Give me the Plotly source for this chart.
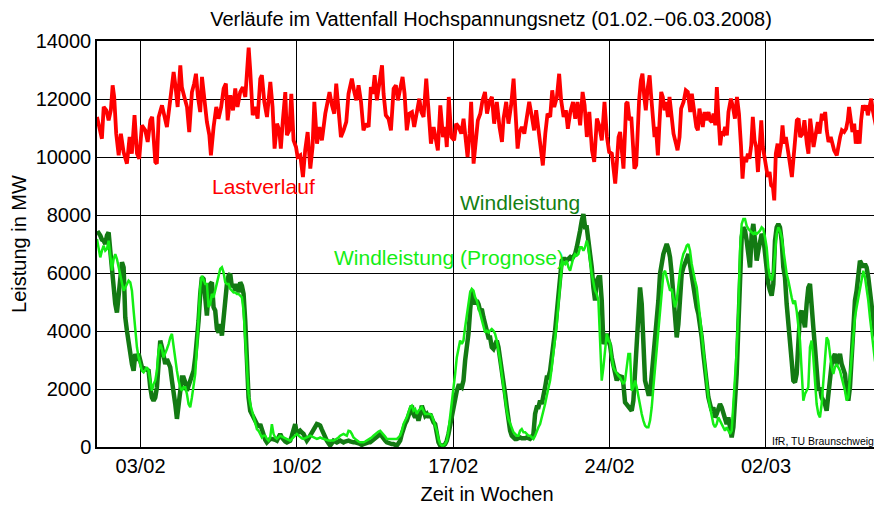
import pandas as pd
import plotly.graph_objects as go

START = pd.Timestamp("2008-02-01")

# ---- Lastverlauf (irregular samples: day offset from 01.02.2008, MW) ----
LOAD_DAYS = [
    0.05, 0.17, 0.27, 0.35, 0.47, 0.57, 0.67, 0.75, 0.82, 0.91, 1.02, 1.12, 1.24, 1.39, 1.51, 1.61, 1.73, 1.84, 1.94,
    2.06, 2.21, 2.32, 2.44, 2.52, 2.66, 2.73, 2.81, 2.96, 3.06, 3.18, 3.29, 3.38, 3.48, 3.55, 3.66, 3.78, 3.85, 3.96,
    4.08, 4.18, 4.30, 4.40, 4.48, 4.57, 4.67, 4.75, 4.85, 4.97, 5.08, 5.15, 5.27, 5.39, 5.49, 5.61, 5.72, 5.82, 5.90,
    6.02, 6.14, 6.24, 6.34, 6.46, 6.58, 6.69, 6.76, 6.84, 6.91, 7.02, 7.14, 7.24, 7.36, 7.43, 7.54, 7.66, 7.81, 7.91,
    8.00, 8.11, 8.21, 8.28, 8.37, 8.48, 8.55, 8.66, 8.75, 8.85, 8.96, 9.03, 9.15, 9.27, 9.37, 9.48, 9.60, 9.70, 9.78,
    9.90, 10.01, 10.12, 10.27, 10.37, 10.46, 10.57, 10.67, 10.76, 10.87, 10.97, 11.09, 11.21, 11.31, 11.42,
    11.46, 11.57, 11.66, 11.76, 11.87, 11.98, 12.10, 12.21, 12.31, 12.40, 12.48, 12.58, 12.69, 12.81, 12.88, 12.98,
    13.10, 13.21, 13.33, 13.43, 13.52, 13.63, 13.73, 13.82, 13.92, 14.03, 14.15, 14.25, 14.37, 14.48, 14.57, 14.67,
    14.79, 14.89, 15.00, 15.12, 15.22, 15.31, 15.42, 15.54, 15.64, 15.71, 15.80, 15.91, 16.04, 16.13, 16.24, 16.36,
    16.46, 16.54, 16.64, 16.73, 16.80, 16.91, 17.00, 17.10, 17.21, 17.31, 17.42, 17.51, 17.62, 17.73, 17.83, 17.95,
    18.07, 18.18, 18.25, 18.37, 18.47, 18.59, 18.70, 18.77, 18.88, 18.97, 19.07, 19.18, 19.30, 19.40, 19.52, 19.62,
    19.71, 19.82, 19.92, 20.01, 20.12, 20.22, 20.34, 20.43, 20.52, 20.64, 20.74, 20.83, 20.94, 21.04, 21.13, 21.24,
    21.36, 21.46, 21.56, 21.68, 21.79, 21.88, 21.98, 22.09, 22.21, 22.31, 22.43, 22.53, 22.65, 22.77, 22.88, 22.98,
    23.10, 23.17, 23.25, 23.32, 23.40, 23.47, 23.55, 23.62, 23.70, 23.74, 23.80, 23.89, 23.97, 24.04, 24.11, 24.19,
    24.25, 24.32, 24.40, 24.47, 24.55, 24.62, 24.70, 24.79, 24.85, 24.94, 25.01, 25.07, 25.16, 25.23, 25.31, 25.38,
    25.46, 25.53, 25.61, 25.68, 25.76, 25.86, 25.97, 26.04, 26.13, 26.20, 26.31, 26.41, 26.50, 26.61, 26.68, 26.79,
    26.88, 26.95, 27.02, 27.10, 27.17, 27.25, 27.32, 27.43, 27.50, 27.58, 27.65, 27.73, 27.80, 27.87, 27.95, 28.02,
    28.10, 28.17, 28.25, 28.32, 28.43, 28.52, 28.61, 28.70, 28.79, 28.88, 28.95, 29.02, 29.11, 29.19, 29.26, 29.34,
    29.41, 29.49, 29.56, 29.64, 29.71, 29.79, 29.86, 29.93, 30.01, 30.08, 30.16, 30.23, 30.31, 30.37, 30.44, 30.52,
    30.59, 30.67, 30.74, 30.81, 30.89, 30.96, 31.05, 31.16, 31.23, 31.31, 31.38, 31.46, 31.53, 31.64, 31.72, 31.83,
    31.90, 31.98, 32.05, 32.13, 32.23, 32.32, 32.40, 32.50, 32.58, 32.65, 32.72, 32.80, 32.90, 32.98, 33.05, 33.17,
    33.25, 33.32, 33.40, 33.50, 33.59, 33.66, 33.72, 33.80, 33.87, 33.95, 34.02, 34.10, 34.19, 34.26, 34.34, 34.41,
    34.49, 34.56, 34.63, 34.71, 34.78, 34.86, 34.93, 34.96,
]
LOAD_MW = [
    11380, 11035, 10630, 11725, 11610, 11265, 11610, 12470, 12070, 10805, 10060, 10805, 10170, 9770, 10690, 10115, 11440, 10115, 9940,
    11090, 10920, 10520, 11265, 11380, 9830, 9770, 11380, 11780, 11495, 11035, 11725, 12240, 12930, 12530, 11725, 13160, 12410, 12070,
    11725, 10860, 12240, 12530, 12870, 12070, 11550, 12760, 12070, 11210, 10750, 10060, 11035, 11725, 11320, 11725, 12360, 12530, 11265,
    12130, 11610, 12360, 11725, 12240, 12410, 12070, 12870, 13770, 12990, 11440, 11725, 11320, 12700, 12820, 11900, 11380, 12590, 11725,
    10290, 11150, 10920, 10290, 11265, 12240, 10750, 10920, 12180, 10575, 10345, 10000, 10060, 9310, 10230, 10860, 9600, 10345, 11900,
    10460, 11035, 10575, 11495, 11900, 12240, 11780, 11495, 12530, 11610, 10690, 10920, 11210, 12180, 12700,
    12700, 12240, 11955, 12470, 11900, 10920, 11150, 11035, 12410, 12180, 12820, 11955, 12470, 13160, 12180, 11440,
    11320, 10920, 12360, 12470, 11955, 12360, 12760, 12180, 10920, 11495, 11550, 11035, 11610, 12010, 11550, 11380,
    12700, 11495, 10460, 11035, 10575, 10230, 11780, 10690, 11035, 10345, 12070, 10690, 10575, 11150, 11035, 10805,
    11320, 10805, 10000, 10805, 11900, 9770, 10575, 11265, 11495, 11955, 12240, 11495, 11900, 12070, 11150, 11900,
    11035, 10518, 11320, 11900, 11150, 11780, 12700, 11550, 10290, 10860, 11035, 10805, 11380, 11900, 11380, 10920,
    11610, 10920, 10290, 9710, 10805, 11495, 11380, 12300, 11725, 12070, 12870, 11955, 11380, 11610, 10977, 11550,
    11900, 11322, 11900, 11092, 12242, 11782, 10690, 11552, 10230, 9830, 11322, 11092, 10575, 11900, 10690, 10173,
    10115, 9655, 9081, 9770, 10690, 10862, 10000, 9598, 11035, 11840, 11897, 11265, 11380, 10115, 9598, 9713,
    10805, 11954, 12644, 12874, 12070, 11610, 12357, 12816, 12184, 11150, 10690, 11035, 10058, 11150, 12242, 12070,
    11610, 11897, 11380, 12070, 11610, 10805, 10460, 10230, 10690, 11667, 11897, 12299, 12242, 11552, 12184, 11610,
    11035, 10920, 11667, 11322, 11035, 11552, 11265, 11552, 11265, 11207, 11495, 11092, 12414, 11380, 10403, 10862,
    10805, 11035, 10747, 11552, 12012, 11725, 11322, 12070, 11495, 10403, 9253, 10000, 9828, 10115, 9943, 10403,
    11380, 10575, 10345, 9483, 10345, 11265, 10345, 10000, 9770, 9311, 9483, 9023, 8966, 8506, 10115, 10460,
    10000, 10403, 11092, 10460, 10690, 10230, 9885, 9311, 10000, 10805, 11265, 11322, 10690, 10805, 11265, 10460,
    10115, 11322, 10920, 10345, 10805, 11207, 10805, 11495, 11265, 11552, 10920, 10518, 10690, 10345, 10230, 10058,
    10460, 10690, 10920, 10862, 10977, 11265, 11725, 11092, 10862, 11150, 10460, 10920, 10460, 11265, 11782, 11610,
    11782, 11437, 11667, 12012, 11610, 11265, 11035, 10115,
]

# ---- Wind series: regular sampling, first sample at 1.15 h, step 1.79 h ----
WIND_T0_H = 1.15
WIND_STEP_H = 1.79

WIND_MW = [
    7345, 7380, 7290, 7150, 7115, 7000, 7290, 7400, 6770, 6080,
    5160, 4930, 4640, 5160, 5850, 6370, 6195, 4470, 4010, 3550,
    3090, 2860, 2630, 3210, 2980, 3210, 2980, 2750, 2720, 2690,
    2660, 2630, 2060, 1710, 1600, 1710, 2060, 3210, 3670, 3440,
    3090, 2860, 3030, 2860, 2750, 2290, 1940, 1480, 970, 1480,
    2060, 2400, 2400, 2230, 1940, 2120, 2350, 2520, 2630, 3090,
    3670, 4360, 5280, 5850, 5790, 5050, 4530, 5390, 5620, 5680,
    4820, 4700, 4070, 3950, 4240, 3840, 4470, 5280, 5620, 5910,
    5970, 5510, 5620, 5390, 5620, 5330, 5680, 5560, 5280, 4360,
    2980, 1710, 1250, 1140, 1080, 910, 790, 680, 790, 560,
    330, 250, 160, 220, 280, 280, 280, 250, 220, 330,
    450, 330, 220, 190, 160, 190, 220, 390, 560, 790,
    450, 500, 560, 500, 450, 330, 220, 300, 390, 470,
    560, 680, 790, 770, 740, 600, 450, 330, 220, 130,
    50, 130, 220, 190, 160, 190, 220, 190, 160, 190,
    220, 220, 190, 160, 160, 160, 160, 130, 100, 70,
    100, 130, 160, 160, 160, 200, 250, 280, 330, 400,
    450, 350, 280, 220, 160, 130, 100, 100, 100, 70,
    50, 130, 220, 450, 680, 800, 910, 1100, 1310, 1425,
    1140, 1020, 1140, 910, 1140, 1425, 1250, 1080, 1140, 1020,
    1140, 970, 850, 790, 450, 160, 50, 50, 50, 100,
    220, 450, 790, 1140, 1480, 1710, 1940, 2115, 2115, 2060,
    2290, 2980, 3440, 3900, 4700, 5390, 5050, 4930, 5050, 4930,
    4700, 4760, 4470, 4180, 3900, 3780, 3780, 3440, 3380, 3550,
    3670, 3440, 3090, 2750, 2290, 1830, 1370, 910, 560, 390,
    330, 280, 280, 300, 330, 300, 280, 300, 330, 300,
    280, 330, 450, 1140, 1370, 1370, 1600, 1480, 1710, 2060,
    2400, 2400, 2630, 2980, 3550, 4010, 4590, 5280, 5850, 6425,
    6480, 6480, 6425, 6480, 6540, 6480, 6600, 6655, 6885, 7115,
    7460, 7800, 8030, 7575, 7575, 7115, 6770, 6195, 5500, 5050,
    5740, 5850, 5850, 5050, 3550, 3780, 3900, 3670, 3500, 3090,
    2750, 2520, 2290, 2460, 2400, 2460, 2170, 1540, 1480, 1425,
    1310, 1250, 1600, 2520, 3900, 4700, 5500, 4930, 2980, 2290,
    2060, 1830, 1830, 2400, 3210, 3780, 4130, 5050, 5970, 6425,
    6655, 6830, 7000, 6830, 6540, 5970, 5050, 4130, 3780, 4240,
    5390, 5970, 6195, 6310, 6480, 6655, 6310, 5740, 5390, 5050,
    4820, 4590, 4240, 3780, 3210, 2630, 2060, 1710, 1480, 1250,
    1370, 1020, 1140, 1370, 1480, 1370, 1140, 910, 790, 1020,
    560, 330, 680, 1370, 2520, 4130, 5850, 7230, 7575, 7460,
    7115, 6540, 6195, 7345, 7690, 7115, 6425, 6770, 7115, 7345,
    7230, 6540, 5970, 5620, 5390, 5220, 5620, 7115, 7575, 7690,
    7575, 7115, 6195, 5850, 4930, 4130, 3440, 2980, 2290, 2230,
    2520, 3440, 4590, 4700, 4360, 4130, 4930, 5500, 5620, 5050,
    4130, 3440, 2520, 1940, 2060, 1710, 1600, 1480, 1250, 1830,
    2520, 2860, 3090, 3210, 2860, 3090, 3210, 2860, 2630, 2520,
    1940, 1600, 2060, 3210, 4360, 5050, 5390, 5970, 6425, 6310,
    6195, 6310, 6195, 5850, 5280, 4700, 4470, 3900, 3670,
]

FORECAST_MW = [
    7170, 6885, 6540, 6770, 6940, 6770, 6830, 7115, 6600, 6080,
    6480, 6650, 6480, 6195, 5850, 5620, 5390, 5506, 5620, 5735,
    5680, 5390, 4700, 3900, 3440, 3090, 2860, 2630, 2575, 2690,
    2750, 2630, 2230, 1940, 2170, 2290, 2630, 3320, 3550, 3380,
    3090, 3210, 3380, 3550, 3780, 3900, 3440, 2980, 2630, 2290,
    2060, 1940, 2060, 2060, 1830, 1480, 1370, 1710, 2060, 2520,
    3440, 4590, 5510, 5910, 5790, 5620, 5620, 4820, 4930, 5280,
    5160, 5390, 5620, 5910, 6140, 6195, 6020, 5680, 5620, 5620,
    5450, 5390, 5330, 5330, 5280, 5280, 5220, 5160, 4700, 3670,
    2520, 1830, 1480, 1250, 1020, 790, 620, 560, 450, 330,
    390, 390, 280, 220, 330, 790, 450, 330, 280, 330,
    390, 360, 330, 300, 280, 250, 220, 280, 330, 390,
    450, 390, 330, 300, 280, 300, 330, 360, 390, 360,
    330, 300, 280, 300, 330, 300, 280, 250, 220, 220,
    220, 220, 220, 250, 280, 330, 390, 420, 450, 420,
    390, 560, 540, 450, 330, 280, 220, 190, 160, 160,
    160, 190, 220, 250, 280, 330, 390, 450, 510, 535,
    560, 500, 450, 360, 280, 280, 280, 280, 280, 280,
    280, 330, 390, 550, 790, 910, 1020, 1200, 1370, 1425,
    1250, 1310, 1140, 1250, 1310, 1370, 1250, 1140, 1140, 1140,
    1140, 1080, 910, 790, 560, 280, 100, 50, 50, 100,
    220, 560, 1020, 1480, 1940, 2520, 3090, 3440, 3670, 3550,
    3670, 4130, 4590, 5050, 5330, 5450, 5390, 5160, 5050, 4820,
    4590, 4360, 4130, 3950, 4010, 3950, 4010, 4070, 4010, 3900,
    3670, 3380, 2980, 2520, 2060, 1600, 1250, 970, 790, 620,
    510, 450, 390, 390, 560, 620, 510, 510, 450, 390,
    390, 330, 280, 390, 560, 680, 790, 1020, 1200, 1480,
    1770, 2060, 2290, 2750, 3210, 3670, 4240, 4930, 5620, 6195,
    6370, 6310, 6425, 6195, 6080, 6310, 6540, 6655, 6600, 6655,
    6885, 6885, 6770, 6885, 7115, 6885, 6370, 5970, 5680, 5390,
    5280, 5050, 3670, 2290, 2750, 3440, 3900, 3670, 3600, 3090,
    2750, 2630, 2520, 2460, 2400, 2290, 2170, 2290, 2750, 3210,
    3210, 1940, 2060, 2290, 2060, 1710, 1370, 1140, 910, 740,
    680, 680, 910, 1370, 2060, 2750, 3440, 3900, 4590, 5280,
    5970, 6080, 5850, 5620, 5390, 5450, 5160, 4820, 5050, 5620,
    6080, 6425, 6655, 6770, 6940, 7000, 6770, 6310, 5970, 5740,
    5510, 5050, 4470, 3900, 3320, 2630, 2060, 1710, 1370, 1020,
    790, 680, 790, 1020, 910, 790, 680, 560, 680, 560,
    450, 560, 1370, 2170, 3320, 4700, 6770, 7690, 7860, 7860,
    7630, 7520, 7460, 7400, 7345, 7400, 7345, 7400, 7460, 7575,
    7520, 7230, 6885, 6195, 5850, 5740, 6020, 6655, 7345, 7575,
    7460, 7230, 6770, 6310, 5970, 5740, 5390, 5160, 4930, 5050,
    4700, 4240, 3670, 2630, 1600, 1830, 1940, 2060, 3440, 3670,
    3090, 2170, 1480, 1140, 1020, 1480, 2290, 3320, 3780, 3670,
    3090, 2750, 2520, 2750, 2860, 2750, 2630, 2400, 2170, 1940,
    1600, 1710, 2400, 3210, 3900, 4470, 4820, 5160, 5500, 5850,
    6080, 5850, 5500, 5050, 4470, 3900, 3440, 2980, 2690,
]

TICK_DATES = ["2008-02-03", "2008-02-10", "2008-02-17", "2008-02-24", "2008-03-02"]
TICK_LABELS = ["03/02", "10/02", "17/02", "24/02", "02/03"]
Y_TICKS = [0, 2000, 4000, 6000, 8000, 10000, 12000, 14000]

load_t = START + pd.to_timedelta(LOAD_DAYS, unit="D")
wind_t = [START + pd.Timedelta(hours=WIND_T0_H + i * WIND_STEP_H) for i in range(len(WIND_MW))]
fc_t = [START + pd.Timedelta(hours=WIND_T0_H + i * WIND_STEP_H) for i in range(len(FORECAST_MW))]

RED = "#ff0000"
DARK = "#137a13"
LIGHT = "#14ee14"
FONT = "Arial, Liberation Sans, sans-serif"

# The page body has an 8 px default margin, so the figure is 8 px smaller
# than the window and every layout offset is relative to (8, 8).
W, H = 874, 500

fig = go.Figure()
fig.add_trace(go.Scatter(x=load_t, y=LOAD_MW, mode="lines", name="Lastverlauf",
                         line=dict(color=RED, width=3.8)))
fig.add_trace(go.Scatter(x=wind_t, y=WIND_MW, mode="lines", name="Windleistung",
                         line=dict(color=DARK, width=4.5)))
fig.add_trace(go.Scatter(x=fc_t, y=FORECAST_MW, mode="lines", name="Windleistung (Prognose)",
                         line=dict(color=LIGHT, width=2.5)))

x0 = START + pd.Timedelta(days=0.05)
x1 = START + pd.Timedelta(days=34.97)

fig.update_layout(
    width=W, height=H,
    margin=dict(l=89, r=5, t=33, b=61, autoexpand=False),
    paper_bgcolor="white", plot_bgcolor="white",
    showlegend=False,
    font=dict(family=FONT, size=20, color="black"),
    title=dict(text="Verläufe im Vattenfall Hochspannungsnetz (01.02.\u221206.03.2008)",
               xref="container", x=483 / W, xanchor="center",
               yref="container", y=1 - 4 / H, yanchor="top",
               font=dict(family=FONT, size=20, color="black")),
    xaxis=dict(type="date", range=[x0, x1], tickmode="array",
               tickvals=TICK_DATES, ticktext=TICK_LABELS,
               showgrid=True, gridcolor="black", gridwidth=1,
               showline=True, linecolor="black", linewidth=1.5, mirror=True,
               ticks="", zeroline=False, automargin=False,
               tickfont=dict(family=FONT, size=20, color="black"),
               title=dict(text="Zeit in Wochen", standoff=11,
                          font=dict(family=FONT, size=20, color="black"))),
    yaxis=dict(range=[0, 14000], tickmode="array", tickvals=Y_TICKS, tickformat="d",
               showgrid=True, gridcolor="black", gridwidth=1,
               showline=True, linecolor="black", linewidth=1.5, mirror=True,
               ticks="", zeroline=False, automargin=False,
               tickfont=dict(family=FONT, size=20, color="black"),
               title=dict(text="Leistung in MW", standoff=11,
                          font=dict(family=FONT, size=20, color="black"))),
)

fig.add_annotation(text="Lastverlauf", xref="paper", yref="paper",
                   x=(210 - 97) / 780, y=(447 - 173) / 406, showarrow=False,
                   font=dict(family=FONT, size=21, color=RED))
fig.add_annotation(text="Windleistung", xref="paper", yref="paper",
                   x=(520 - 97) / 780, y=(447 - 202) / 406, showarrow=False,
                   font=dict(family=FONT, size=21, color="#138013"))
fig.add_annotation(text="Windleistung (Prognose)", xref="paper", yref="paper",
                   x=(332 - 97) / 780, y=(447 - 257) / 406, showarrow=False,
                   font=dict(family=FONT, size=21, color=LIGHT))
fig.add_annotation(text="IfR, TU Braunschweig", xref="paper", yref="paper",
                   x=0.999, y=(447 - 441) / 406, xanchor="right", yanchor="middle",
                   showarrow=False, font=dict(family=FONT, size=10.5, color="black"))

fig.write_html("out.html")
